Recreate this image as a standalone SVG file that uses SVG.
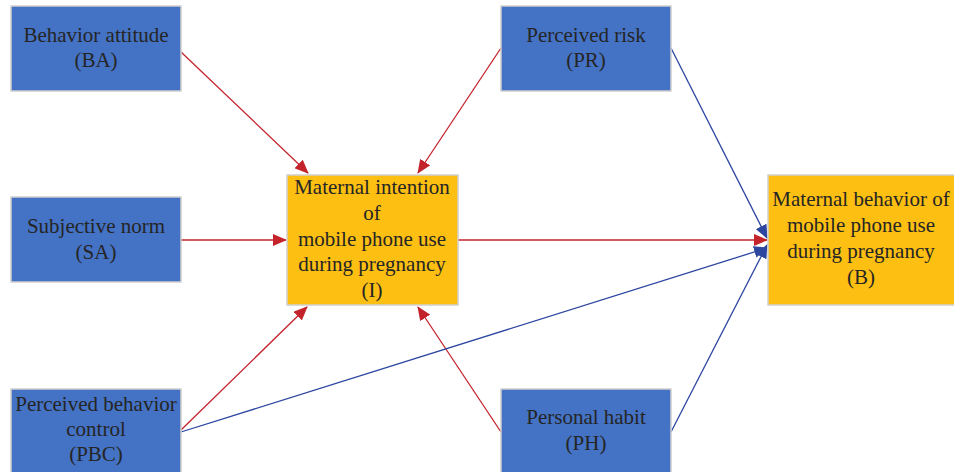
<svg xmlns="http://www.w3.org/2000/svg" width="954" height="472" viewBox="0 0 954 472">
<style>
.blue{fill:#4472C4;stroke:#D0D0D0;stroke-width:1.5}
.yel{fill:#FDBF12;stroke:#D0D0D0;stroke-width:1.5}
text{font-size:21px;fill:#252525;text-anchor:middle}
.r{stroke:#C3242C;stroke-width:1.3;fill:none;marker-end:url(#ar)}
.b{stroke:#2D46A0;stroke-width:1.3;fill:none;marker-end:url(#ab)}
</style>
<defs>
<marker id="ar" markerUnits="userSpaceOnUse" markerWidth="14" markerHeight="12" viewBox="0 0 14 12" refX="13" refY="6" orient="auto"><path d="M0,0 L14,6 L0,12 z" fill="#C3242C"/></marker>
<marker id="ab" markerUnits="userSpaceOnUse" markerWidth="14" markerHeight="12" viewBox="0 0 14 12" refX="13" refY="6" orient="auto"><path d="M0,0 L14,6 L0,12 z" fill="#2D46A0"/></marker>
</defs>
<rect width="954" height="472" fill="#fff"/>
<g id="connectors">
<line class="r" x1="181" y1="52" x2="308" y2="173"/>
<line class="r" x1="501" y1="48" x2="418" y2="173"/>
<line class="r" x1="181" y1="240" x2="286" y2="240"/>
<line class="r" x1="181" y1="430" x2="307" y2="307"/>
<line class="r" x1="501" y1="432" x2="418" y2="307"/>
<line class="b" x1="671" y1="48" x2="767" y2="238"/>
<line class="b" x1="181" y1="432" x2="767" y2="248"/>
<line class="b" x1="671" y1="432" x2="767" y2="245"/>
<line class="r" x1="458" y1="240" x2="767" y2="240"/>
</g>
<g font-family="Liberation Serif, DejaVu Serif, serif">
<g id="BA"><rect class="blue" x="11" y="6" width="170" height="85"/><text x="96" y="42">Behavior attitude</text><text x="96" y="67">(BA)</text></g>
<g id="PR"><rect class="blue" x="501" y="6" width="170" height="85"/><text x="586" y="42">Perceived risk</text><text x="586" y="67">(PR)</text></g>
<g id="SA"><rect class="blue" x="11" y="197" width="170" height="85"/><text x="96" y="233">Subjective norm</text><text x="96" y="259">(SA)</text></g>
<g id="PBC"><rect class="blue" x="11" y="389" width="170" height="90"/><text x="96" y="411">Perceived behavior</text><text x="96" y="436">control</text><text x="96" y="461">(PBC)</text></g>
<g id="PH"><rect class="blue" x="501" y="389" width="170" height="90"/><text x="586" y="424">Personal habit</text><text x="586" y="450">(PH)</text></g>
<g id="I"><rect class="yel" x="287" y="175" width="171" height="130"/><text x="372" y="194">Maternal intention</text><text x="372" y="220">of</text><text x="372" y="246">mobile phone use</text><text x="372" y="271">during pregnancy</text><text x="372" y="297">(I)</text></g>
<g id="B"><rect class="yel" x="768" y="175" width="190" height="130"/><text x="861" y="206">Maternal behavior of</text><text x="861" y="232">mobile phone use</text><text x="861" y="258">during pregnancy</text><text x="861" y="284">(B)</text></g>
</g>
</svg>
